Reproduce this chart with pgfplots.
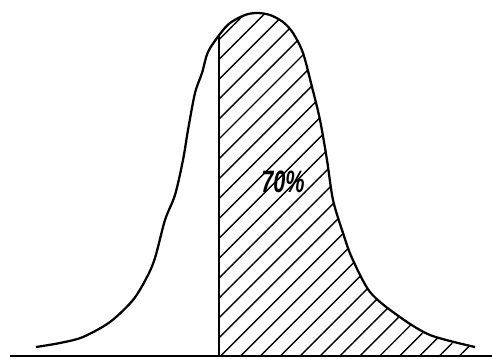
\documentclass[border=0pt]{standalone}
\usepackage{fontspec}
\setmainfont{Liberation Sans}
\usepackage{pgfplots}
\pgfplotsset{compat=1.18}
\usepgfplotslibrary{fillbetween}
\usetikzlibrary{patterns.meta}

\begin{document}
\begin{tikzpicture}
\begin{axis}[
  scale only axis,
  width=12.3cm, height=8.95cm,
  xmin=0, xmax=492, ymin=0, ymax=358,
  axis lines=none,
  clip=false,
]
% skewed frequency curve
\addplot[name path=curve, line width=1.6pt, smooth, tension=0.5] coordinates {
  (36,11) (60,15) (83,21) (110,36) (133,58) (147,81) (155,100)
  (165,138) (175,163) (183,198) (188,228) (195,265) (202,285)
  (208,306) (220,324) (230,335) (245,343) (257,345) (270,343)
  (283,336) (293,325) (303,305) (312,271) (320,238) (327,198)
  (333,158) (343,125) (352,100) (370,66) (397,43) (430,23) (475,11)
};
% baseline
\addplot[name path=base, line width=1.1pt] coordinates {(10,2) (492,2)};
% hatched area right of the dividing line
\addplot[draw=none, pattern={Lines[angle=45,distance=10pt,line width=1pt]}]
  fill between[of=curve and base, soft clip={domain=219:475}];
% dividing line
\addplot[line width=1.3pt] coordinates {(219,2) (219,323)};
\node[font=\fontsize{22}{22}\selectfont\bfseries\itshape, xscale=0.7] at (axis cs:283,176) {70\%};
\end{axis}
\pgfresetboundingbox
\useasboundingbox (current axis.south west) rectangle (current axis.north east);
\end{tikzpicture}
\end{document}
